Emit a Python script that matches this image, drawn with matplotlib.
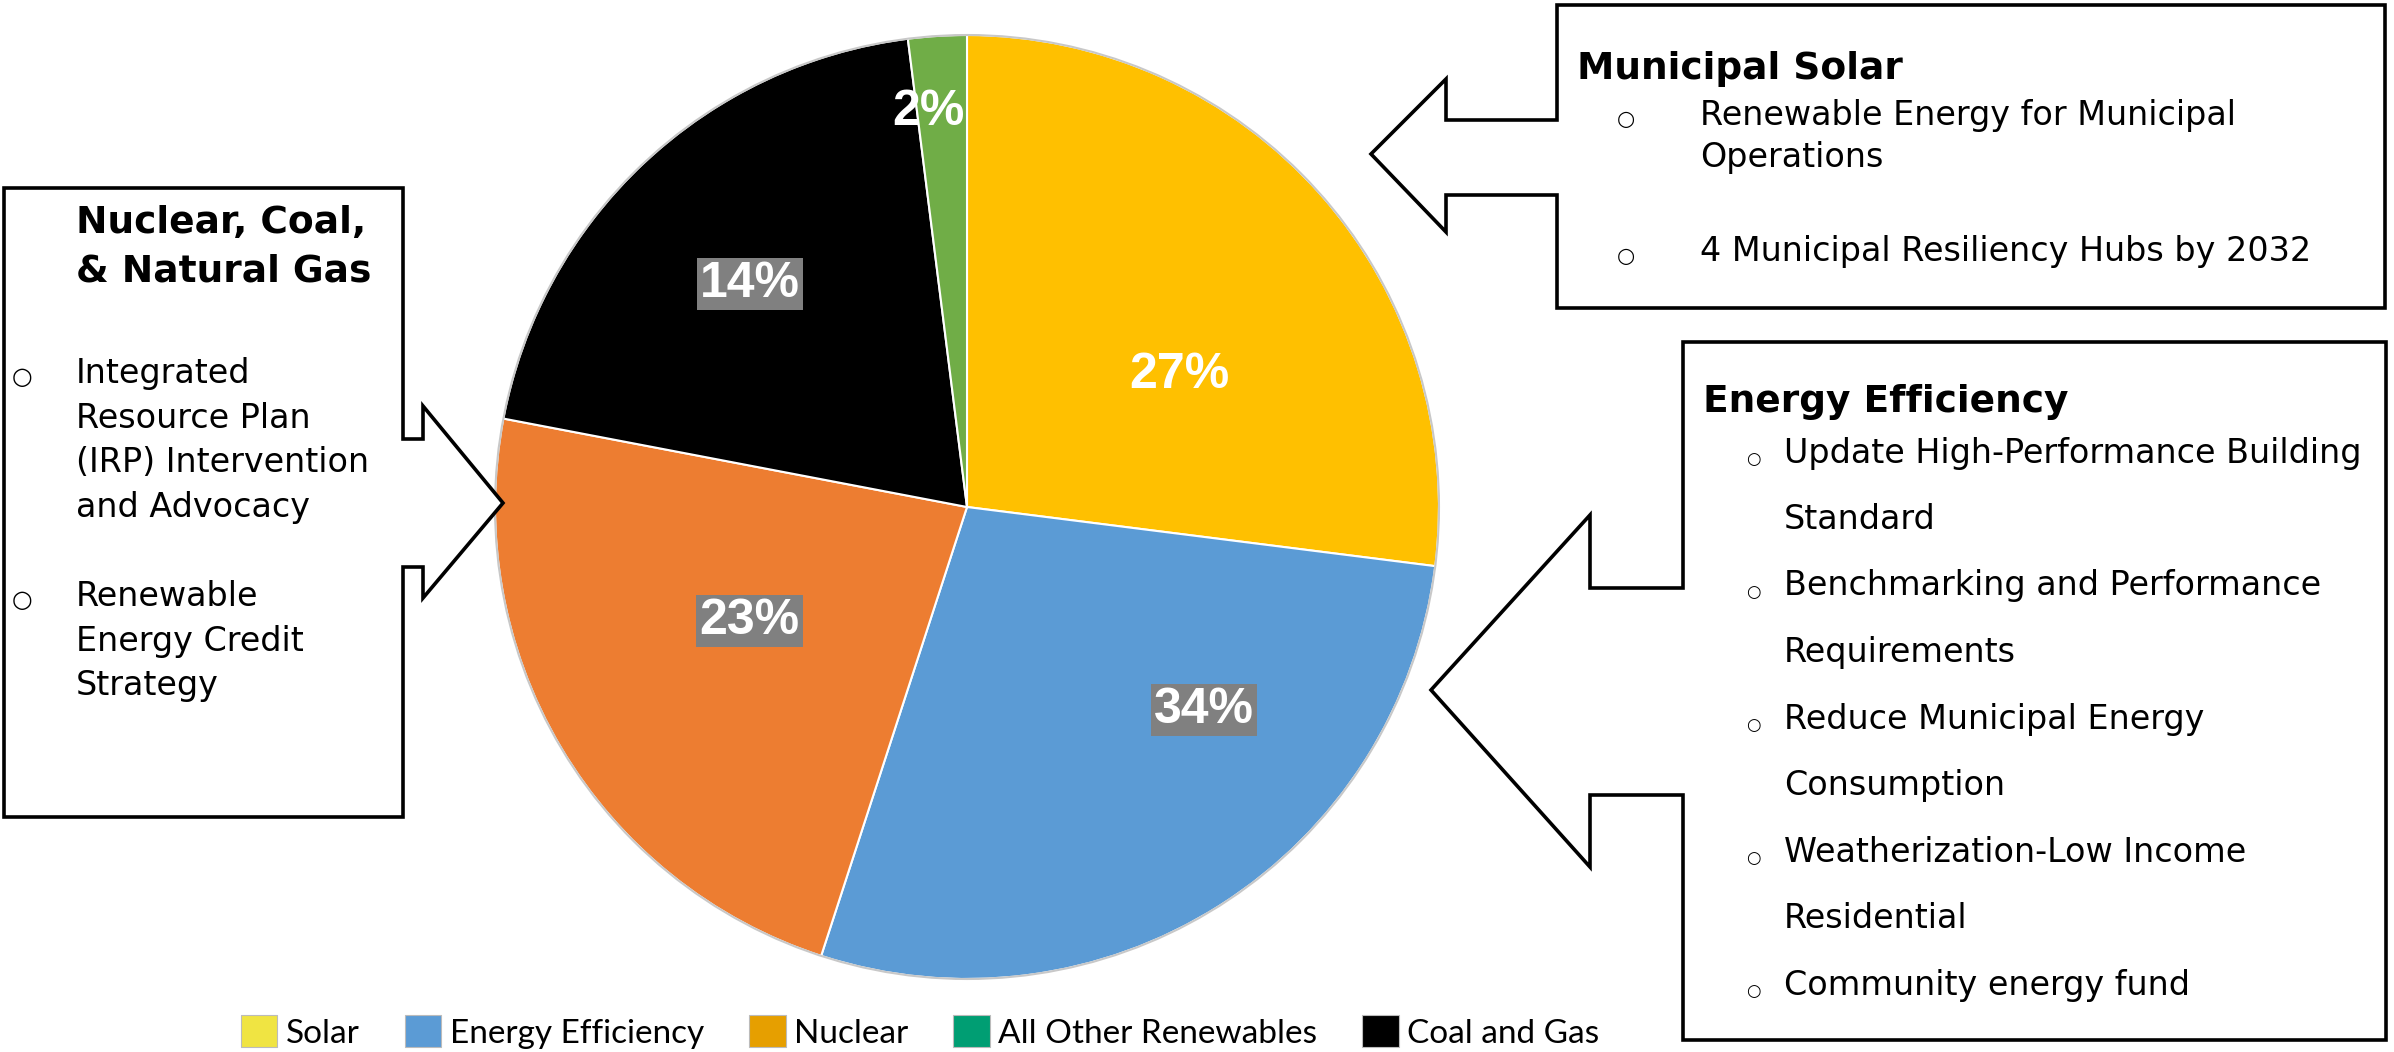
import matplotlib.pyplot as plt
from matplotlib.patches import Polygon, Circle, Patch
import numpy as np

W, H = 2394, 1052

# pie data (slice sizes as drawn, labels as printed)
categories = ['Solar', 'Energy Efficiency', 'Nuclear', 'Coal and Gas', 'All Other Renewables']
shares = [27, 28, 23, 20, 2]
share_labels = ['27%', '34%', '23%', '14%', '2%']
pie_colors = ['#FFC000', '#5B9BD5', '#ED7D31', '#000000', '#70AD47']
label_boxed = [False, True, True, True, False]

legend_labels = ['Solar', 'Energy Efficiency', 'Nuclear', 'All Other Renewables', 'Coal and Gas']
legend_colors = ['#F0E442', '#5B9BD5', '#E69F00', '#009E73', '#000000']

solar_title = 'Municipal Solar'
solar_items = [['Renewable Energy for Municipal', 'Operations'],
               ['4 Municipal Resiliency Hubs by 2032']]

ee_title = 'Energy Efficiency'
ee_items = [['Update High-Performance Building', 'Standard'],
            ['Benchmarking and Performance', 'Requirements'],
            ['Reduce Municipal Energy', 'Consumption'],
            ['Weatherization-Low Income', 'Residential'],
            ['Community energy fund']]

fossil_title = ['Nuclear, Coal,', '& Natural Gas']
fossil_items = [['Integrated', 'Resource Plan', '(IRP) Intervention', 'and Advocacy'],
                ['Renewable', 'Energy Credit', 'Strategy']]

BODY = 'DejaVu Sans'


def Y(y):
    return H - y


fig = plt.figure(figsize=(W / 100, H / 100), dpi=100)
ax = fig.add_axes([0, 0, 1, 1])

cx, cy, R = 967, Y(507), 472
wedges, _ = ax.pie(shares, colors=pie_colors, startangle=90, counterclock=False,
                   center=(cx, cy), radius=R, frame=True,
                   wedgeprops=dict(edgecolor='white', linewidth=1.5))
ax.add_patch(Circle((cx, cy), R, fill=False, ec='#C8C8C8', lw=1.5, zorder=3))
ax.set_xlim(0, W)
ax.set_ylim(0, H)
ax.set_aspect('auto')
ax.axis('off')

# slice labels
ang_shift = [-9.5, 17, -3, 1, 2]
r_frac = [0.53, 0.66, 0.52, 0.66, 0.84]
for i, w in enumerate(wedges):
    a = np.deg2rad((w.theta1 + w.theta2) / 2 + ang_shift[i])
    x = cx + r_frac[i] * R * np.cos(a)
    y = cy + r_frac[i] * R * np.sin(a)
    box = dict(boxstyle='square,pad=0.06', fc='#808080', ec='none') if label_boxed[i] else None
    ax.text(x, y, share_labels[i], color='white', fontsize=36, fontweight='bold',
            family='Liberation Sans', ha='center', va='center', bbox=box, zorder=5)

# callout shapes
shapes = [
    [(4, 188), (403, 188), (403, 439), (423, 439), (423, 406), (503, 503), (423, 598),
     (423, 567), (403, 567), (403, 817), (4, 817)],
    [(1557, 5), (2385, 5), (2385, 308), (1557, 308), (1557, 195), (1446, 195), (1446, 232),
     (1371, 154), (1446, 79), (1446, 120), (1557, 120)],
    [(1683, 342), (2386, 342), (2386, 1040), (1683, 1040), (1683, 795), (1590, 795),
     (1590, 867), (1431, 690), (1590, 515), (1590, 588), (1683, 588)],
]
for pts in shapes:
    ax.add_patch(Polygon([(x, Y(y)) for x, y in pts], closed=True, fc='white',
                         ec='black', lw=2.6, joinstyle='miter', zorder=6))


def put(x, y, s, size, bold=False, family=BODY, ha='left'):
    ax.text(x, Y(y), s, fontsize=size, fontweight='bold' if bold else 'normal',
            family=family, ha=ha, va='center', zorder=7)


# left box
for k, s in enumerate(fossil_title):
    put(76, 223 + k * 49, s, 27, bold=True)
for item, y0 in zip(fossil_items, [374, 597]):
    put(22, y0 + 3, '○', 17, ha='center')
    for j, s in enumerate(item):
        put(76, y0 + j * 44.5, s, 24)

# top right box
put(1577, 69, solar_title, 27, bold=True)
for item, y0 in zip(solar_items, [115, 252]):
    put(1626, y0 + 4, '○', 15, ha='center')
    for j, s in enumerate(item):
        put(1700, y0 + j * 42, s, 24)

# energy efficiency box
put(1703, 402, ee_title, 27, bold=True)
y = 453
for item in ee_items:
    put(1753, y + 6, '○', 12, ha='center')
    for s in item:
        put(1784, y, s, 24)
        y += 66.5

# legend
handles = [Patch(fc=c, ec='#BBBBBB', lw=0.8) for c in legend_colors]
fig.legend(handles, legend_labels, loc='center', bbox_to_anchor=(920 / W, Y(1032) / H),
           ncol=5, frameon=False, prop=dict(family='Lato', size=24),
           handlelength=1.1, handleheight=1.1, handletextpad=0.25, columnspacing=1.35)

fig.savefig('out.png', dpi=100)
